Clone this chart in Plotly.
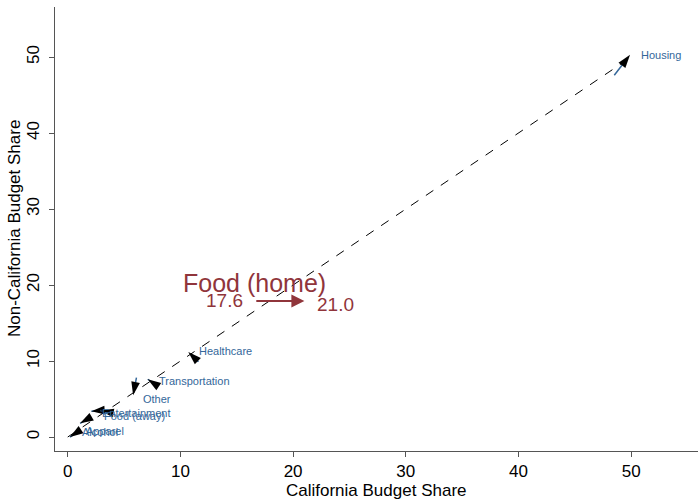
import plotly.graph_objects as go

# ---- data ----
categories = ["Alcohol", "Apparel", "Entertainment", "Food (away)", "Other",
              "Transportation", "Healthcare", "Housing"]
tail_x = [1.0, 1.8, 3.0, 3.6, 6.1, 7.7, 11.6, 48.5]
tail_y = [0.8, 2.4, 3.5, 3.3, 7.8, 7.0, 9.9, 47.6]
tip_x = [0.2, 1.1, 2.1, 2.9, 5.8, 7.1, 10.7, 49.9]
tip_y = [0.0, 1.8, 3.4, 3.5, 5.5, 7.6, 11.2, 50.3]
label_x = [1.1, 1.4, 2.9, 3.0, 6.5, 7.9, 11.5, 50.7]
label_y = [0.7, 0.8, 3.2, 2.8, 5.0, 7.4, 11.3, 50.3]

diag_x = [0, 49.9]
diag_y = [0, 49.9]

food_home_from = 17.6
food_home_to = 21.0
food_arrow_x = [16.6, 21.0]
food_arrow_y = [17.9, 17.9]
food_title_pos = (16.6, 20.3)
food_from_label_pos = (13.9, 17.9)
food_to_label_pos = (23.8, 17.5)

x_ticks = [0, 10, 20, 30, 40, 50]
y_ticks = [0, 10, 20, 30, 40, 50]

BLUE = "#34679a"
MAROON = "#90353b"
AXIS = "#555555"
FONT = "Liberation Sans, Arial, sans-serif"

fig = go.Figure()

# 45-degree dashed line
fig.add_trace(go.Scatter(x=diag_x, y=diag_y, mode="lines",
                         line=dict(color="black", width=1, dash="dash"),
                         hoverinfo="skip", showlegend=False))

# arrows for each category
for i, c in enumerate(categories):
    fig.add_trace(go.Scatter(
        x=[tail_x[i], tip_x[i]], y=[tail_y[i], tip_y[i]],
        mode="lines+markers",
        line=dict(color=BLUE, width=1.5),
        marker=dict(symbol="arrow", size=[0, 14], angleref="previous",
                    color="black", opacity=1, line=dict(width=0)),
        name=c, showlegend=False))

annotations = []
for i, c in enumerate(categories):
    annotations.append(dict(x=label_x[i], y=label_y[i], xref="x", yref="y",
                            text=c, showarrow=False, xanchor="left",
                            yanchor="middle",
                            font=dict(family=FONT, size=11, color=BLUE)))

# Food (home) highlight
annotations.append(dict(x=food_title_pos[0], y=food_title_pos[1], xref="x", yref="y",
                        text="Food (home)", showarrow=False, xanchor="center",
                        yanchor="middle",
                        font=dict(family=FONT, size=25, color=MAROON)))
annotations.append(dict(x=food_from_label_pos[0], y=food_from_label_pos[1], xref="x", yref="y",
                        text=f"{food_home_from:.1f}", showarrow=False, xanchor="center",
                        yanchor="middle",
                        font=dict(family=FONT, size=19, color=MAROON)))
annotations.append(dict(x=food_to_label_pos[0], y=food_to_label_pos[1], xref="x", yref="y",
                        text=f"{food_home_to:.1f}", showarrow=False, xanchor="center",
                        yanchor="middle",
                        font=dict(family=FONT, size=19, color=MAROON)))
annotations.append(dict(x=food_arrow_x[1], y=food_arrow_y[1], ax=food_arrow_x[0], ay=food_arrow_y[0],
                        xref="x", yref="y", axref="x", ayref="y", text="",
                        showarrow=True, arrowhead=2, arrowsize=1.3, arrowwidth=2,
                        arrowcolor=MAROON))

# axis titles
annotations.append(dict(x=0.5, y=0, xref="paper", yref="paper", yshift=-39,
                        text="California Budget Share", showarrow=False,
                        xanchor="center", yanchor="middle",
                        font=dict(family=FONT, size=17, color="black")))
annotations.append(dict(x=0, y=0.5, xref="paper", yref="paper", xshift=-41,
                        text="Non-California Budget Share", showarrow=False,
                        textangle=-90, xanchor="center", yanchor="middle",
                        font=dict(family=FONT, size=17, color="black")))

fig.update_layout(
    width=698, height=500,
    margin=dict(l=55, r=0, t=7, b=49),
    paper_bgcolor="white", plot_bgcolor="white",
    font=dict(family=FONT, size=17, color="black"),
    annotations=annotations,
    hovermode=False,
    xaxis=dict(range=[-1.13, 55.93], tickvals=x_ticks, showgrid=False, zeroline=False,
               showline=True, linecolor=AXIS, linewidth=1, ticks="outside",
               ticklen=5, tickcolor=AXIS, tickfont=dict(size=17), automargin=False),
    yaxis=dict(range=[-1.84, 56.58], tickvals=y_ticks, showgrid=False, zeroline=False,
               showline=True, linecolor=AXIS, linewidth=1, ticks="outside",
               ticklen=5, tickcolor=AXIS, tickangle=-90, tickfont=dict(size=17),
               ticklabelstandoff=3, automargin=False),
)

fig.write_html("out.html", config={"displayModeBar": False},
               post_script="document.body.style.margin='0';document.body.style.padding='0';")
